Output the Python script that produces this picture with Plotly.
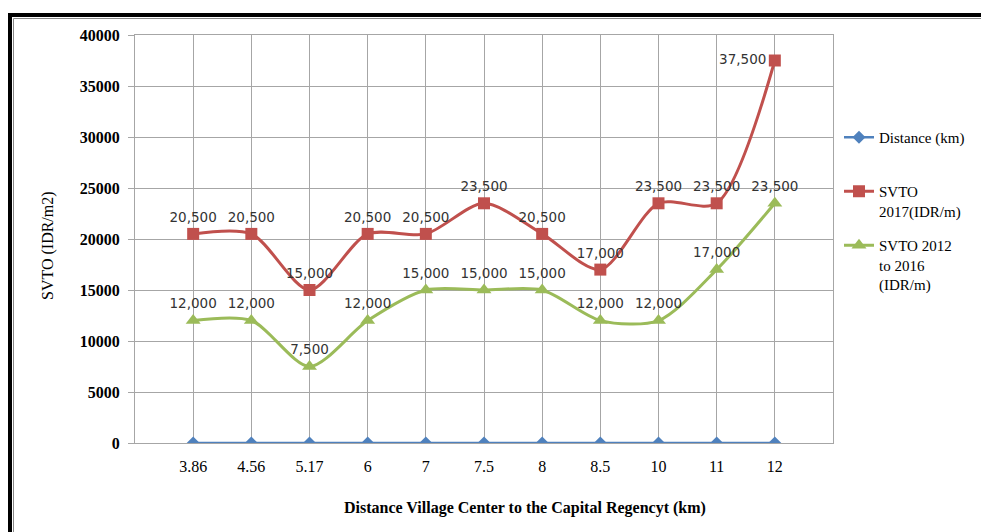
import plotly.graph_objects as go

categories = ["3.86", "4.56", "5.17", "6", "7", "7.5", "8", "8.5", "10", "11", "12"]
distance_km = [0, 0, 0, 0, 0, 0, 0, 0, 0, 0, 0]
svto_2017 = [20500, 20500, 15000, 20500, 20500, 23500, 20500, 17000, 23500, 23500, 37500]
svto_2012_2016 = [12000, 12000, 7500, 12000, 15000, 15000, 15000, 12000, 12000, 17000, 23500]
y_ticks = [0, 5000, 10000, 15000, 20000, 25000, 30000, 35000, 40000]

W, H = 981, 532
L, R, T, B = 135, 981 - 833, 35, 532 - 443
PW, PH = W - L - R, H - T - B

def px(xp):
    return (xp - L) / PW

def py(yp):
    return (H - B - yp) / PH

xs = list(range(len(categories)))

def fmt(v):
    return f"{v:,}"

label_font = dict(family="DejaVu Sans", size=13.5, color="#333333")

fig = go.Figure()
fig.add_trace(go.Scatter(
    x=xs, y=distance_km, name="Distance (km)<br>\u00a0", mode="lines+markers",
    line=dict(color="#4F81BD", width=2.5),
    marker=dict(symbol="diamond", size=10, color="#4F81BD"),
    legendgroup="a"))
pos_red = ["top center"] * (len(svto_2017) - 1) + ["middle left"]
fig.add_trace(go.Scatter(
    x=xs, y=svto_2017, name="SVTO<br>2017(IDR/m)", mode="lines+markers+text",
    line=dict(color="#C0504D", width=3, shape="spline", smoothing=0.8),
    marker=dict(symbol="square", size=12, color="#C0504D"),
    text=[fmt(v) for v in svto_2017], textposition=pos_red, textfont=label_font,
    legendgroup="b"))
fig.add_trace(go.Scatter(
    x=xs, y=svto_2012_2016, name="SVTO 2012<br>to 2016<br>(IDR/m)", mode="lines+markers+text",
    line=dict(color="#9BBB59", width=3, shape="spline", smoothing=0.8),
    marker=dict(symbol="triangle-up", size=13, color="#9BBB59"),
    text=[fmt(v) for v in svto_2012_2016], textposition="top center", textfont=label_font,
    legendgroup="c"))

grid = "#A6A6A6"
fig.update_layout(
    width=W, height=H,
    margin=dict(l=L, r=R, t=T, b=B, autoexpand=False),
    paper_bgcolor="white", plot_bgcolor="white",
    font=dict(family="Liberation Serif", color="black"),
    xaxis=dict(range=[-1, len(categories)], tickvals=xs, ticktext=categories,
               showgrid=True, gridcolor=grid, gridwidth=1, zeroline=False,
               showline=True, linecolor=grid, mirror=True, ticks="",
               ticklabelstandoff=9, tickfont=dict(family="Liberation Serif", size=16)),
    yaxis=dict(range=[0, 40000], tickvals=y_ticks, ticktext=[str(v) for v in y_ticks],
               showgrid=True, gridcolor=grid, gridwidth=1, zeroline=False,
               showline=True, linecolor=grid, mirror=True, ticks="outside",
               ticklen=6, tickcolor=grid, ticklabelstandoff=5,
               tickfont=dict(family="Liberation Serif", size=16, color="black", weight="bold")),
    legend=dict(x=px(839), y=py(121), xanchor="left", yanchor="top",
                font=dict(family="Liberation Serif", size=15, color="black"),
                tracegroupgap=12, valign="top", bgcolor="rgba(0,0,0,0)"),
    showlegend=True,
    annotations=[
        dict(text="SVTO (IDR/m2)", x=px(48), y=py(246), xref="paper", yref="paper",
             xanchor="center", yanchor="middle", textangle=-90, showarrow=False,
             font=dict(family="Liberation Serif", size=16, color="black")),
        dict(text="Distance Village Center to the Capital Regencyt (km)", x=px(525), y=py(508),
             xref="paper", yref="paper", xanchor="center", yanchor="middle", showarrow=False,
             font=dict(family="Liberation Serif", size=16, color="black", weight="bold")),
    ],
    shapes=[
        dict(type="rect", xref="paper", yref="paper", x0=px(10), y0=py(600), x1=px(1010), y1=py(15),
             line=dict(color="black", width=4), layer="above"),
        dict(type="rect", xref="paper", yref="paper", x0=px(13.5), y0=py(600), x1=px(1010), y1=py(18.5),
             line=dict(color="#888888", width=1), layer="above"),
    ],
)

fig.write_html("out.html", config={"displayModeBar": False},
               post_script="document.body.style.margin='0';")
